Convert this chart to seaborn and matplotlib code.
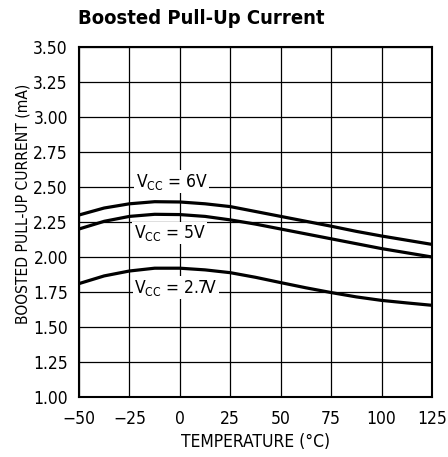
import matplotlib
matplotlib.use("Agg")
import matplotlib.pyplot as plt
import seaborn as sns
import pandas as pd

temperature = [-50, -37.5, -25, -12.5, 0, 12.5, 25, 37.5, 50, 62.5, 75, 87.5, 100, 112.5, 125]
i_6v = [2.30, 2.35, 2.38, 2.395, 2.393, 2.38, 2.36, 2.325, 2.29, 2.255, 2.22, 2.183, 2.15, 2.12, 2.09]
i_5v = [2.20, 2.255, 2.29, 2.305, 2.303, 2.29, 2.265, 2.235, 2.20, 2.165, 2.13, 2.095, 2.06, 2.03, 2.00]
i_27v = [1.81, 1.865, 1.90, 1.92, 1.92, 1.908, 1.888, 1.855, 1.817, 1.78, 1.746, 1.715, 1.69, 1.672, 1.655]
series_names = ["6V", "5V", "2.7V"]
label_pos = {"6V": (-4, 2.538), "5V": (-5, 2.172), "2.7V": (-2, 1.781)}
x_ticks = [-50, -25, 0, 25, 50, 75, 100, 125]
y_ticks = [1.00, 1.25, 1.50, 1.75, 2.00, 2.25, 2.50, 2.75, 3.00, 3.25, 3.50]

sns.set_style("white")
plt.rcParams['font.family'] = ['DejaVu Sans']
plt.rcParams['font.stretch'] = 'condensed'
plt.rcParams['mathtext.fontset'] = 'custom'
plt.rcParams['mathtext.rm'] = 'DejaVu Sans:stretch=condensed'
plt.rcParams['text.color'] = 'black'
plt.rcParams['xtick.color'] = 'black'
plt.rcParams['ytick.color'] = 'black'
plt.rcParams['axes.labelcolor'] = 'black'

rows = []
for name, vals in zip(series_names, [i_6v, i_5v, i_27v]):
    for t, v in zip(temperature, vals):
        rows.append({"T": t, "I": v, "Vcc": name})
df = pd.DataFrame(rows)

fig = plt.figure(figsize=(4.48, 4.57), dpi=100)
ax = fig.add_axes([79/448, 1 - 397/457, (432 - 79)/448, (397 - 47)/457])

sns.lineplot(data=df, x="T", y="I", units="Vcc", estimator=None, color="black",
             linewidth=2.3, ax=ax, legend=False, zorder=3)

ax.set_xlim(-50, 125)
ax.set_ylim(1.0, 3.5)
ax.set_xticks(x_ticks)
ax.set_yticks(y_ticks)
ax.set_xticklabels([f"{t}".replace("-", "\u2212") for t in x_ticks], fontsize=12.5)
ax.set_yticklabels([f"{v:.2f}" for v in y_ticks], fontsize=12.5)
ax.tick_params(axis="both", length=0)
ax.tick_params(axis="x", pad=9)
ax.tick_params(axis="y", pad=8)
ax.grid(True, color="black", linewidth=0.9)
ax.set_axisbelow(True)
for s in ax.spines.values():
    s.set_visible(True)
    s.set_color("black")
    s.set_linewidth(1.5)

for name in series_names:
    x, y = label_pos[name]
    ax.text(x, y, f"V$_{{\\rm CC}}$ = {name}", fontsize=12.5, ha="center", va="center",
            zorder=4, bbox=dict(facecolor="white", edgecolor="none", pad=1.0))

ax.set_xlabel("TEMPERATURE (\u00b0C)", fontsize=12.5)
ax.xaxis.set_label_coords((255.5 - 79) / 353, -(441.7 - 397) / 350)
ax.xaxis.label.set_va("center")
ax.set_ylabel("BOOSTED PULL-UP CURRENT (mA)", fontsize=11.2)
ax.yaxis.set_label_coords(-(79 - 22.7) / 353, (397 - 204) / 350)
ax.yaxis.label.set_va("center")
fig.text(78/448, 1 - 19/457, "Boosted Pull-Up Current", fontsize=14.5, fontweight="bold",
         ha="left", va="center")

fig.savefig("out.png", dpi=100)
